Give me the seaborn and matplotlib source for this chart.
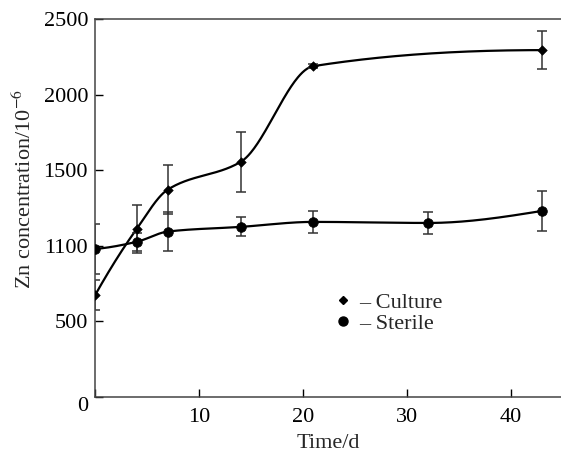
import numpy as np
import pandas as pd
import matplotlib
matplotlib.use("Agg")
import matplotlib.pyplot as plt
from matplotlib.lines import Line2D
import seaborn as sns

# ---- data ----
culture_days = [0, 4, 7, 14, 21, 43]
culture_zn = [673, 1112, 1373, 1556, 2190, 2296]
culture_err = [100, 160, 160, 200, 12, 126]

sterile_days = [0, 4, 7, 14, 21, 32, 43]
sterile_zn = [980, 1027, 1095, 1126, 1159, 1152, 1232]
sterile_err = [163, 60, 130, 63, 72, 75, 133]

ytick_vals = [0, 500, 1000, 1500, 2000, 2500]
ytick_labels = ["0", "500", "1100", "1500", "2000", "2500"]
xtick_vals = [0, 10, 20, 30, 40]
xtick_labels = ["", "10", "20", "30", "40"]


def pchip(x, y, n=400):
    """Monotone (Fritsch-Carlson) smoothing curve through the data points."""
    x = np.asarray(x, float)
    y = np.asarray(y, float)
    h = np.diff(x)
    d = np.diff(y) / h
    k = len(x)
    m = np.zeros(k)
    for i in range(1, k - 1):
        if d[i - 1] * d[i] > 0:
            w1 = 2 * h[i] + h[i - 1]
            w2 = h[i] + 2 * h[i - 1]
            m[i] = (w1 + w2) / (w1 / d[i - 1] + w2 / d[i])
        else:
            m[i] = 0.0

    def end(h0, h1, d0, d1):
        mm = ((2 * h0 + h1) * d0 - h0 * d1) / (h0 + h1)
        if np.sign(mm) != np.sign(d0):
            mm = 0.0
        elif np.sign(d0) != np.sign(d1) and abs(mm) > abs(3 * d0):
            mm = 3 * d0
        return mm

    m[0] = end(h[0], h[1], d[0], d[1])
    m[-1] = end(h[-1], h[-2], d[-1], d[-2])
    xs = np.linspace(x[0], x[-1], n)
    ys = np.empty_like(xs)
    for j, xv in enumerate(xs):
        i = min(np.searchsorted(x, xv, side="right") - 1, k - 2)
        t = (xv - x[i]) / h[i]
        h00 = 2 * t ** 3 - 3 * t ** 2 + 1
        h10 = t ** 3 - 2 * t ** 2 + t
        h01 = -2 * t ** 3 + 3 * t ** 2
        h11 = t ** 3 - t ** 2
        ys[j] = h00 * y[i] + h10 * h[i] * m[i] + h01 * y[i + 1] + h11 * h[i] * m[i + 1]
    return xs, ys


sns.set_theme(style="ticks")
plt.rcParams["font.family"] = ["Liberation Serif", "DejaVu Serif"]
plt.rcParams["mathtext.fontset"] = "stix"

FS = 16

fig = plt.figure(figsize=(5.61, 4.55), dpi=100)
ax = fig.add_axes([95 / 561, 1 - 397 / 455, 1 - 95 / 561, (397 - 19.3) / 455])

cx, cy = pchip(culture_days, culture_zn)
sx, sy = pchip(sterile_days, sterile_zn)
curves = pd.concat([
    pd.DataFrame({"day": cx, "zn": cy, "series": "Culture"}),
    pd.DataFrame({"day": sx, "zn": sy, "series": "Sterile"}),
])
sns.lineplot(data=curves, x="day", y="zn", units="series", estimator=None,
             color="black", linewidth=1.6, ax=ax, legend=False, sort=False)

ax.errorbar(culture_days, culture_zn, yerr=culture_err, fmt="none",
            ecolor="#333333", elinewidth=1.1, capsize=3.8, capthick=1.1)
ax.errorbar(sterile_days, sterile_zn, yerr=sterile_err, fmt="none",
            ecolor="#333333", elinewidth=1.1, capsize=3.8, capthick=1.1)

sns.scatterplot(x=culture_days, y=culture_zn, marker="D", s=24, color="black",
                edgecolor="black", ax=ax, zorder=5)
sns.scatterplot(x=sterile_days, y=sterile_zn, marker="o", s=48, color="black",
                edgecolor="black", ax=ax, zorder=5)

ax.set_xlim(0, 44.8)
ax.set_ylim(0, 2500)
ax.set_xticks(xtick_vals)
ax.set_xticklabels(xtick_labels)
ax.set_yticks(ytick_vals)
ax.set_yticklabels(ytick_labels)
ax.tick_params(direction="in", length=6, width=1, labelsize=FS, colors="black")
ax.tick_params(axis="x", pad=8)
ax.tick_params(axis="y", pad=5)
for lab in ax.get_yticklabels():
    if lab.get_text() == "0":
        lab.set_verticalalignment("top")

for s in ["left", "bottom", "top"]:
    ax.spines[s].set_color("#444444")
    ax.spines[s].set_linewidth(1.1)
ax.spines["right"].set_visible(False)

ax.set_xlabel("Time/d", fontsize=FS, labelpad=5)
ax.set_ylabel("Zn concentration/10$^{-6}$", fontsize=FS)
ax.yaxis.set_label_coords(-0.126, 0.551)

handles = [
    Line2D([], [], marker="D", color="black", linestyle="none", markersize=4),
    Line2D([], [], marker="o", color="black", linestyle="none", markersize=6.5),
]
ax.legend(handles, ["\u2013 Culture", "\u2013 Sterile"], loc="center left",
          bbox_to_anchor=(0.513, 0.222), frameon=False, fontsize=FS,
          handlelength=0.8, handletextpad=0.35, labelspacing=0.05,
          borderpad=0, borderaxespad=0)

fig.savefig("out.png", dpi=100)
